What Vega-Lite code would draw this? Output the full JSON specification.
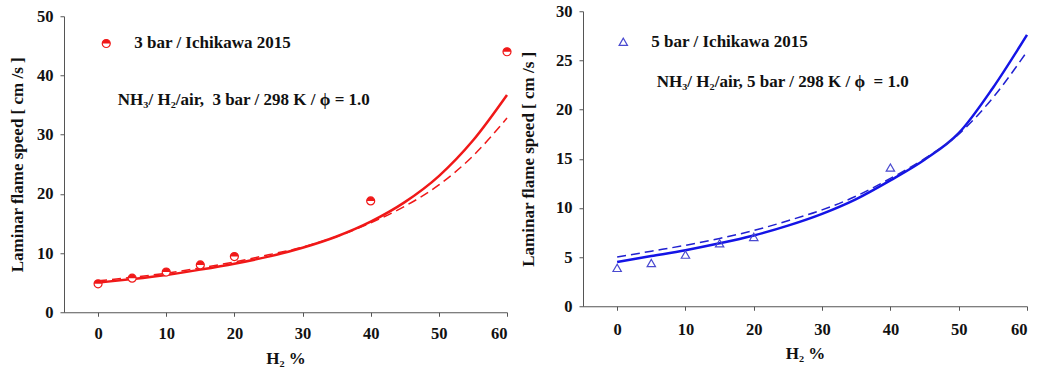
{
  "$schema": "https://vega.github.io/schema/vega-lite/v6.json",
  "autosize": {"type": "pad"},
  "padding": {"left": 8, "top": 3, "right": 0, "bottom": 0},
  "spacing": 5,
  "center": true,
  "config": {
    "view": {"stroke": null},
    "font": "Liberation Serif",
    "axis": {
      "labelFont": "Liberation Serif", "labelFontWeight": "bold", "labelFontSize": 16.5, "labelColor": "#111",
      "titleFont": "Liberation Serif", "titleFontWeight": "bold", "titleFontSize": 17, "titleColor": "#111",
      "domainColor": "#555", "tickColor": "#555", "grid": false, "tickSize": 4, "labelPadding": 7
    }
  },
  "datasets": {
    "leftCurves": [
      {"h2": 0, "s": 5.0, "m": "solid"}, {"h2": 5, "s": 5.6, "m": "solid"}, {"h2": 10, "s": 6.3, "m": "solid"},
      {"h2": 15, "s": 7.2, "m": "solid"}, {"h2": 20, "s": 8.2, "m": "solid"}, {"h2": 25, "s": 9.4, "m": "solid"},
      {"h2": 30, "s": 10.9, "m": "solid"}, {"h2": 35, "s": 12.8, "m": "solid"}, {"h2": 40, "s": 15.3, "m": "solid"},
      {"h2": 45, "s": 18.6, "m": "solid"}, {"h2": 50, "s": 23.0, "m": "solid"}, {"h2": 55, "s": 29.0, "m": "solid"},
      {"h2": 60, "s": 36.7, "m": "solid"},
      {"h2": 0, "s": 5.3, "m": "dashed"}, {"h2": 5, "s": 5.9, "m": "dashed"}, {"h2": 10, "s": 6.6, "m": "dashed"},
      {"h2": 15, "s": 7.5, "m": "dashed"}, {"h2": 20, "s": 8.5, "m": "dashed"}, {"h2": 25, "s": 9.7, "m": "dashed"},
      {"h2": 30, "s": 11.0, "m": "dashed"}, {"h2": 35, "s": 12.8, "m": "dashed"}, {"h2": 40, "s": 15.1, "m": "dashed"},
      {"h2": 45, "s": 17.9, "m": "dashed"}, {"h2": 50, "s": 21.5, "m": "dashed"}, {"h2": 55, "s": 26.4, "m": "dashed"},
      {"h2": 60, "s": 32.8, "m": "dashed"}
    ],
    "leftPoints": [
      {"h2": 0, "s": 4.8}, {"h2": 5, "s": 5.75}, {"h2": 10, "s": 6.8}, {"h2": 15, "s": 8.0},
      {"h2": 20, "s": 9.4}, {"h2": 40, "s": 18.8}, {"h2": 60, "s": 44.0}, {"h2": 1.2, "s": 45.4}
    ],
    "leftText": [
      {"h2": 5.3, "s": 45.4, "label": "3 bar / Ichikawa 2015"},
      {"h2": 2.9, "s": 35.8, "label": "NH₃/ H₂/air, \u00a03 bar / 298 K / ϕ = 1.0"}
    ],
    "rightCurves": [
      {"h2": 0, "s": 4.5, "m": "solid"}, {"h2": 5, "s": 5.1, "m": "solid"}, {"h2": 10, "s": 5.7, "m": "solid"},
      {"h2": 15, "s": 6.4, "m": "solid"}, {"h2": 20, "s": 7.2, "m": "solid"}, {"h2": 25, "s": 8.2, "m": "solid"},
      {"h2": 30, "s": 9.4, "m": "solid"}, {"h2": 35, "s": 10.9, "m": "solid"}, {"h2": 40, "s": 12.8, "m": "solid"},
      {"h2": 45, "s": 14.9, "m": "solid"}, {"h2": 50, "s": 17.6, "m": "solid"}, {"h2": 55, "s": 22.2, "m": "solid"},
      {"h2": 60, "s": 27.6, "m": "solid"},
      {"h2": 0, "s": 5.0, "m": "dashed"}, {"h2": 5, "s": 5.6, "m": "dashed"}, {"h2": 10, "s": 6.2, "m": "dashed"},
      {"h2": 15, "s": 6.9, "m": "dashed"}, {"h2": 20, "s": 7.7, "m": "dashed"}, {"h2": 25, "s": 8.7, "m": "dashed"},
      {"h2": 30, "s": 9.8, "m": "dashed"}, {"h2": 35, "s": 11.2, "m": "dashed"}, {"h2": 40, "s": 13.0, "m": "dashed"},
      {"h2": 45, "s": 15.0, "m": "dashed"}, {"h2": 50, "s": 17.5, "m": "dashed"}, {"h2": 55, "s": 21.2, "m": "dashed"},
      {"h2": 60, "s": 25.9, "m": "dashed"}
    ],
    "rightPoints": [
      {"h2": 0, "s": 3.9}, {"h2": 5, "s": 4.4}, {"h2": 10, "s": 5.25}, {"h2": 15, "s": 6.4},
      {"h2": 20, "s": 7.05}, {"h2": 40, "s": 14.1}, {"h2": 0.9, "s": 26.9}
    ],
    "rightText": [
      {"h2": 5.0, "s": 26.9, "label": "5 bar / Ichikawa 2015"},
      {"h2": 5.8, "s": 22.8, "label": "NH₃/ H₂/air, 5 bar / 298 K / ϕ \u00a0= 1.0"}
    ]
  },
  "hconcat": [
    {
      "width": 443,
      "height": 296,
      "layer": [
        {
          "mark": {"type": "rule", "color": "#555", "strokeWidth": 1},
          "encoding": {"x": {"datum": 60, "type": "quantitative"}}
        },
        {
          "data": {"name": "leftCurves"},
          "transform": [{"filter": "datum.m === 'solid'"}],
          "mark": {"type": "line", "color": "#f01818", "strokeWidth": 2.5, "interpolate": "monotone"},
          "encoding": {
            "x": {"field": "h2", "type": "quantitative", "scale": {"domain": [-5, 60], "nice": false, "zero": false},
                  "axis": {"values": [0, 10, 20, 30, 40, 50, 60], "title": "H₂ %", "labelPadding": 9, "titlePadding": 9}},
            "y": {"field": "s", "type": "quantitative", "scale": {"domain": [0, 50], "nice": false},
                  "axis": {"values": [0, 10, 20, 30, 40, 50], "title": "Laminar flame speed [ cm /s ]", "titlePadding": 10}}
          }
        },
        {
          "data": {"name": "leftCurves"},
          "transform": [{"filter": "datum.m === 'dashed'"}],
          "mark": {"type": "line", "color": "#f01818", "strokeWidth": 1.5, "strokeDash": [9, 5], "interpolate": "monotone"},
          "encoding": {
            "x": {"field": "h2", "type": "quantitative"},
            "y": {"field": "s", "type": "quantitative"}
          }
        },
        {
          "data": {"name": "leftPoints"},
          "mark": {"type": "point", "shape": "circle", "filled": true, "fill": "white", "stroke": "#f01818", "strokeWidth": 1.2, "size": 64, "opacity": 1},
          "encoding": {
            "x": {"field": "h2", "type": "quantitative"},
            "y": {"field": "s", "type": "quantitative"}
          }
        },
        {
          "data": {"name": "leftPoints"},
          "mark": {"type": "point", "shape": "M -1 0 A 1 1 0 0 1 1 0 Z", "filled": true, "color": "#f01818", "size": 64, "opacity": 1},
          "encoding": {
            "x": {"field": "h2", "type": "quantitative"},
            "y": {"field": "s", "type": "quantitative"}
          }
        },
        {
          "data": {"name": "leftText"},
          "mark": {"type": "text", "align": "left", "baseline": "middle", "font": "Liberation Serif", "fontWeight": "bold", "fontSize": 17, "color": "#111"},
          "encoding": {
            "x": {"field": "h2", "type": "quantitative"},
            "y": {"field": "s", "type": "quantitative"},
            "text": {"field": "label"}
          }
        }
      ]
    },
    {
      "width": 444,
      "height": 295,
      "title": {"text": ".", "orient": "bottom", "anchor": "end", "color": "white", "fontSize": 10, "offset": 0},
      "layer": [
        {
          "mark": {"type": "rule", "color": "#555", "strokeWidth": 1},
          "encoding": {"x": {"datum": 60, "type": "quantitative"}}
        },
        {
          "data": {"name": "rightCurves"},
          "transform": [{"filter": "datum.m === 'solid'"}],
          "mark": {"type": "line", "color": "#1414e6", "strokeWidth": 2.5, "interpolate": "monotone"},
          "encoding": {
            "x": {"field": "h2", "type": "quantitative", "scale": {"domain": [-5, 60], "nice": false, "zero": false},
                  "axis": {"values": [0, 10, 20, 30, 40, 50, 60], "title": "H₂ %", "labelPadding": 11, "titlePadding": 8}},
            "y": {"field": "s", "type": "quantitative", "scale": {"domain": [0, 30], "nice": false},
                  "axis": {"values": [0, 5, 10, 15, 20, 25, 30], "title": "Laminar flame speed [ cm /s ]", "titlePadding": 18}}
          }
        },
        {
          "data": {"name": "rightCurves"},
          "transform": [{"filter": "datum.m === 'dashed'"}],
          "mark": {"type": "line", "color": "#2020d0", "strokeWidth": 1.5, "strokeDash": [9, 5], "interpolate": "monotone"},
          "encoding": {
            "x": {"field": "h2", "type": "quantitative"},
            "y": {"field": "s", "type": "quantitative"}
          }
        },
        {
          "data": {"name": "rightPoints"},
          "mark": {"type": "point", "shape": "triangle-up", "filled": false, "stroke": "#4a4ad0", "strokeWidth": 1.2, "size": 70, "opacity": 1},
          "encoding": {
            "x": {"field": "h2", "type": "quantitative"},
            "y": {"field": "s", "type": "quantitative"}
          }
        },
        {
          "data": {"name": "rightText"},
          "mark": {"type": "text", "align": "left", "baseline": "middle", "font": "Liberation Serif", "fontWeight": "bold", "fontSize": 17, "color": "#111"},
          "encoding": {
            "x": {"field": "h2", "type": "quantitative"},
            "y": {"field": "s", "type": "quantitative"},
            "text": {"field": "label"}
          }
        }
      ]
    }
  ]
}
